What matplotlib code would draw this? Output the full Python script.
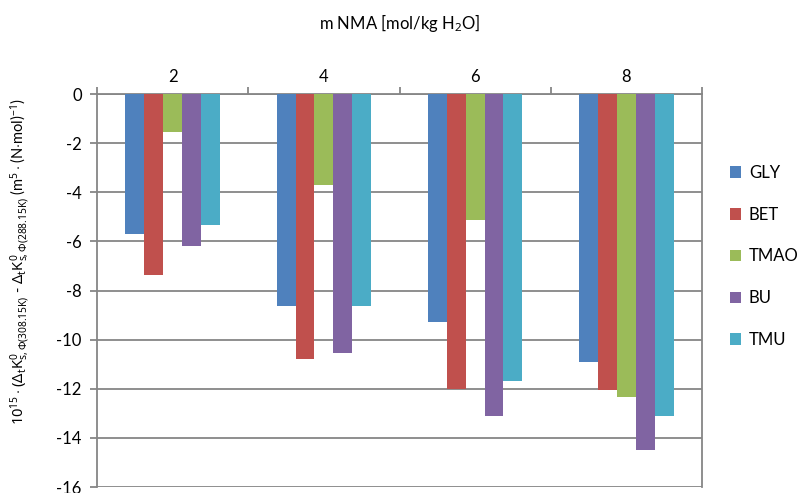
import matplotlib
matplotlib.use("Agg")
import matplotlib.pyplot as plt
import numpy as np

categories = ["2", "4", "6", "8"]
series_names = ["GLY", "BET", "TMAO", "BU", "TMU"]
gly = [-5.70, -8.63, -9.27, -10.91]
bet = [-7.38, -10.79, -12.03, -12.06]
tmao = [-1.56, -3.70, -5.12, -12.32]
bu = [-6.19, -10.54, -13.12, -14.49]
tmu = [-5.34, -8.64, -11.68, -13.12]
y_ticks = [0, -2, -4, -6, -8, -10, -12, -14, -16]

colors = ["#4F81BD", "#C0504D", "#9BBB59", "#8064A2", "#4BACC6"]
series = [gly, bet, tmao, bu, tmu]

plt.rcParams['font.family'] = ['Lato', 'DejaVu Sans']
plt.rcParams['mathtext.fontset'] = 'custom'
plt.rcParams['mathtext.rm'] = 'Noto Sans'
plt.rcParams['mathtext.it'] = 'Noto Sans'
plt.rcParams['mathtext.sf'] = 'Noto Sans'

fig = plt.figure(figsize=(8.04, 4.93), dpi=100)
ax = fig.add_axes([97 / 804, 6 / 493, (702 - 97) / 804, (487 - 94) / 493])

x = np.arange(len(categories))
w = 0.125
for i, (name, vals, c) in enumerate(zip(series_names, series, colors)):
    ax.bar(x + (i - 2) * w, vals, width=w, color=c, label=name, zorder=3,
           edgecolor='none')

ax.set_xlim(-0.5, len(categories) - 0.5)
ax.set_ylim(-16, 0)
ax.set_yticks(y_ticks)
ax.set_yticklabels([str(v) for v in y_ticks], fontsize=12)

gc = "#868686"
ax.yaxis.grid(True, color=gc, linewidth=1.3, zorder=1)
ax.set_axisbelow(True)

ax.xaxis.tick_top()
ax.xaxis.set_label_position('top')
ax.set_xticks(np.arange(-0.5, len(categories), 1.0))
ax.set_xticklabels([])
ax.set_xticks(x, minor=True)
ax.set_xticklabels(categories, minor=True, fontsize=12)
ax.tick_params(axis='x', which='major', direction='out', length=5, width=1.3, color=gc)
ax.tick_params(axis='x', which='minor', length=0, pad=6.5)
ax.tick_params(axis='y', direction='out', length=5, width=1.3, color=gc, pad=6)
ax.set_xlabel(r"m NMA [mol/kg H$_2$O]", fontsize=12, labelpad=29)

for s in ['left', 'top', 'right']:
    ax.spines[s].set_color(gc)
    ax.spines[s].set_linewidth(1.3)
ax.spines['bottom'].set_visible(False)

ylabel = (r"$10^{15}\cdot(\Delta_t\mathrm{K}^0_{s,\Phi(308.15K)}$ - "
          r"$\Delta_t\mathrm{K}^0_{s,\Phi(288.15K)}$ (m$^5\cdot$(N$\cdot$mol)$^{-1}$)")
fig.text(20 / 804, 1 - 262 / 493, ylabel, rotation=90, ha='center', va='center',
         fontsize=10.5)

handles, labels = ax.get_legend_handles_labels()
leg = fig.legend(handles, labels, loc='upper left', bbox_to_anchor=(723 / 804, 1 - 158 / 493),
                 frameon=False, fontsize=12, handlelength=0.7, handleheight=0.7,
                 handletextpad=0.45, labelspacing=1.55, borderaxespad=0, borderpad=0.4)

fig.savefig("out.png", dpi=100)
